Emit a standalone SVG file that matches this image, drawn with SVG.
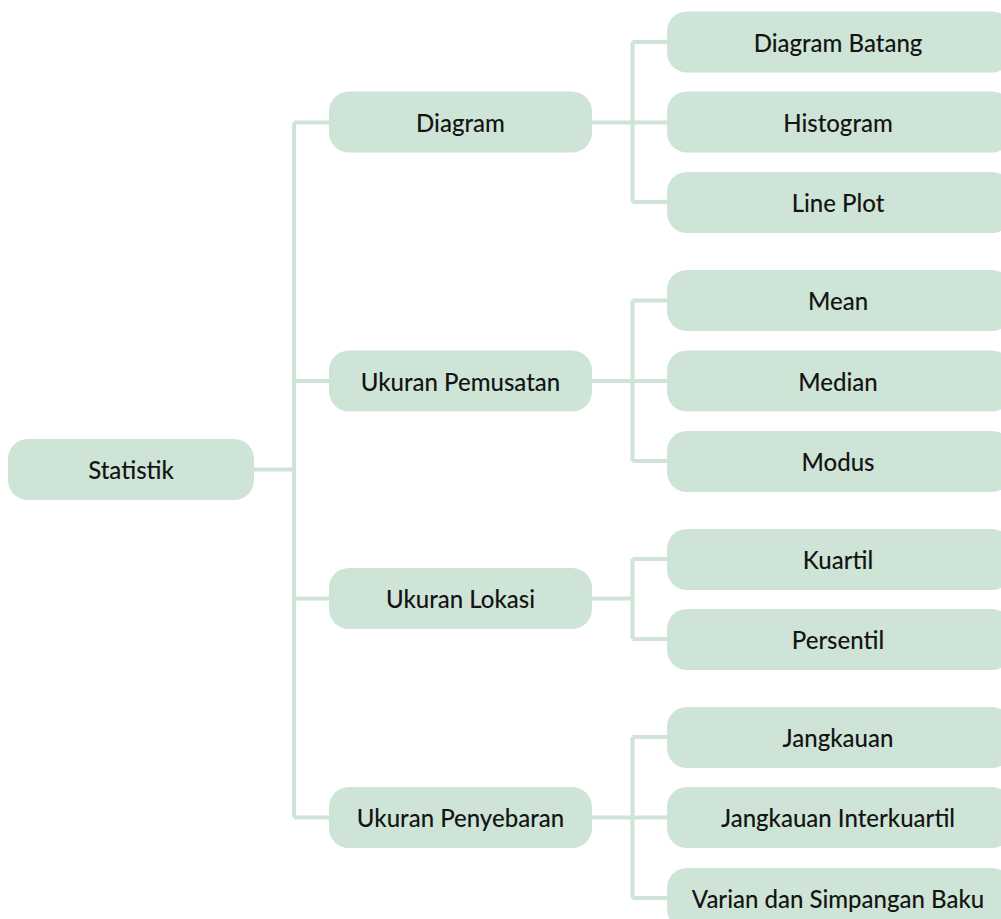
<svg xmlns="http://www.w3.org/2000/svg" width="1001" height="919" viewBox="0 0 1001 919">
<style>
.box{fill:#cde4d6}
.lbl{font-family:Lato,"Noto Sans",sans-serif;font-size:24px;font-weight:500;fill:#141414;text-anchor:middle;dominant-baseline:central}
.ln{fill:none;stroke:#cde4d6;stroke-width:4}
</style>
<rect width="1001" height="919" fill="#ffffff"/>
<g id="connectors">
<path class="ln" d="M254 469.5H294M294 122.5V817.5M294 122.5H330M294 381H330M294 598.5H330M294 817.5H330"/>
<path class="ln" d="M592 122.5H668M632.5 42V202M632.5 42H668M632.5 202H668"/>
<path class="ln" d="M592 381H668M632.5 300.5V461M632.5 300.5H668M632.5 461H668"/>
<path class="ln" d="M592 598.5H632.5M632.5 559V639M632.5 559H668M632.5 639H668"/>
<path class="ln" d="M592 817.5H668M632.5 737V898M632.5 737H668M632.5 898H668"/>
</g>
<g id="n-statistik"><rect class="box" x="8" y="439" width="246" height="61" rx="20"/><text class="lbl" x="131" y="469.5">Statistik</text></g>
<g id="n-diagram"><rect class="box" x="329" y="91.5" width="263" height="61" rx="20"/><text class="lbl" x="460.5" y="122">Diagram</text></g>
<g id="n-pemusatan"><rect class="box" x="329" y="350.5" width="263" height="61" rx="20"/><text class="lbl" x="460.5" y="381">Ukuran Pemusatan</text></g>
<g id="n-lokasi"><rect class="box" x="329" y="568" width="263" height="61" rx="20"/><text class="lbl" x="460.5" y="598.5">Ukuran Lokasi</text></g>
<g id="n-penyebaran"><rect class="box" x="329" y="787" width="263" height="61" rx="20"/><text class="lbl" x="460.5" y="817.5">Ukuran Penyebaran</text></g>
<g id="n-batang"><rect class="box" x="667" y="11.5" width="345" height="61" rx="20"/><text class="lbl" x="838" y="42">Diagram Batang</text></g>
<g id="n-histogram"><rect class="box" x="667" y="91.5" width="345" height="61" rx="20"/><text class="lbl" x="838" y="122">Histogram</text></g>
<g id="n-lineplot"><rect class="box" x="667" y="172" width="345" height="61" rx="20"/><text class="lbl" x="838" y="202.5">Line Plot</text></g>
<g id="n-mean"><rect class="box" x="667" y="270" width="345" height="61" rx="20"/><text class="lbl" x="838" y="300.5">Mean</text></g>
<g id="n-median"><rect class="box" x="667" y="350.5" width="345" height="61" rx="20"/><text class="lbl" x="838" y="381">Median</text></g>
<g id="n-modus"><rect class="box" x="667" y="431" width="345" height="61" rx="20"/><text class="lbl" x="838" y="461.5">Modus</text></g>
<g id="n-kuartil"><rect class="box" x="667" y="529" width="345" height="61" rx="20"/><text class="lbl" x="838" y="559.5">Kuartil</text></g>
<g id="n-persentil"><rect class="box" x="667" y="609" width="345" height="61" rx="20"/><text class="lbl" x="838" y="639.5">Persentil</text></g>
<g id="n-jangkauan"><rect class="box" x="667" y="707" width="345" height="61" rx="20"/><text class="lbl" x="838" y="737.5">Jangkauan</text></g>
<g id="n-interkuartil"><rect class="box" x="667" y="787" width="345" height="61" rx="20"/><text class="lbl" x="838" y="817.5">Jangkauan Interkuartil</text></g>
<g id="n-varian"><rect class="box" x="667" y="868" width="345" height="61" rx="20"/><text class="lbl" x="838" y="898.5">Varian dan Simpangan Baku</text></g>
</svg>
